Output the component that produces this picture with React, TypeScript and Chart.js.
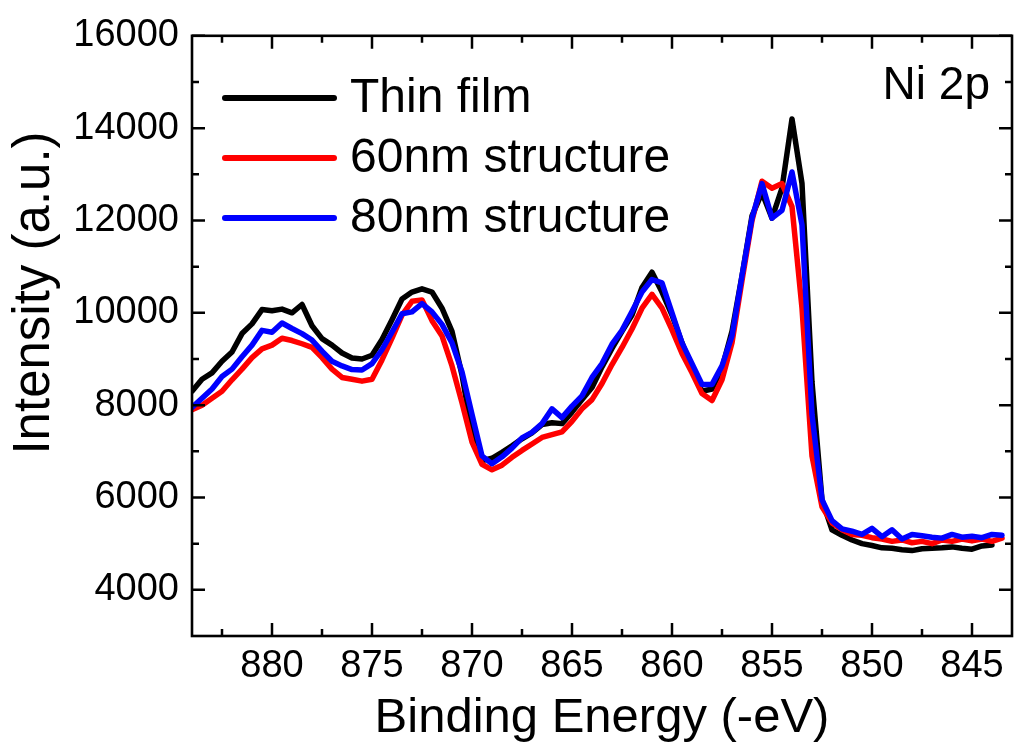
import React, { useEffect, useRef } from "react";
import { Chart, registerables } from "chart.js";

Chart.register(...registerables);

const energies = [
  884, 883.5, 883, 882.5, 882, 881.5, 881, 880.5, 880, 879.5,
  879, 878.5, 878, 877.5, 877, 876.5, 876, 875.5, 875, 874.5,
  874, 873.5, 873, 872.5, 872, 871.5, 871, 870.5, 870, 869.5,
  869, 868.5, 868, 867.5, 867, 866.5, 866, 865.5, 865, 864.5,
  864, 863.5, 863, 862.5, 862, 861.5, 861, 860.5, 860, 859.5,
  859, 858.5, 858, 857.5, 857, 856.5, 856, 855.5, 855, 854.5,
  854, 853.5, 853, 852.5, 852, 851.5, 851, 850.5, 850, 849.5,
  849, 848.5, 848, 847.5, 847, 846.5, 846, 845.5, 845, 844.5,
  844, 843.5,
];

const thinFilm = [
  8300, 8560, 8700, 8950, 9150, 9550, 9760, 10070, 10045, 10080,
  10000, 10180, 9720, 9440, 9300, 9130, 9020, 9000, 9080, 9420,
  9850, 10300, 10450, 10520, 10450, 10100, 9600, 8650, 7400, 6800,
  6850, 6980, 7120, 7270, 7400, 7580, 7620, 7600, 7850, 8120,
  8380, 8830, 9230, 9600, 9950, 10550, 10880, 10450, 9950, 9350,
  8800, 8300, 8350, 8800, 9600, 10800, 12100, 12600, 12050, 12700,
  14200, 12800, 8500, 5950, 5300, 5180, 5080, 5000, 4960, 4910,
  4900, 4870, 4850, 4890, 4900, 4910, 4930, 4900, 4880, 4950,
  4970, null,
];

const nm60 = [
  7900, 8000, 8150, 8300, 8550, 8780, 9030, 9220, 9300, 9450,
  9400, 9330, 9250, 9030, 8780, 8600, 8560, 8520, 8560, 8980,
  9450, 9950, 10250, 10280, 9830, 9500, 8850, 8050, 7200, 6720,
  6600, 6700, 6870, 7020, 7160, 7300, 7360, 7420, 7650, 7920,
  8120, 8470, 8880, 9250, 9650, 10100, 10400, 10100, 9630, 9120,
  8700, 8250, 8100, 8550, 9350, 10700, 12000, 12850, 12700, 12800,
  12300, 10100, 6900, 5800, 5450, 5300, 5200, 5180, 5130, 5100,
  5050, 5080, 5020, 5050, 5000, 5080, 5050, 5100, 5060, 5100,
  5050, 5120,
];

const nm80 = [
  7950, 8150, 8350, 8620, 8780, 9050, 9300, 9620, 9580, 9780,
  9660, 9550, 9410, 9170, 8950, 8850, 8770, 8760, 8900, 9200,
  9580, 9980, 10020, 10200, 10020, 9750, 9350, 8720, 7800, 6900,
  6730, 6880, 7070, 7290, 7410, 7600, 7920, 7730, 7980, 8200,
  8600, 8900, 9320, 9620, 10030, 10450, 10720, 10650, 10000, 9350,
  8900, 8450, 8450, 8850, 9500, 10800, 12050, 12800, 12050, 12220,
  13050, 11900, 7800, 5950, 5500, 5320, 5270, 5200, 5330, 5150,
  5300, 5100, 5200, 5170, 5140, 5120, 5200, 5140, 5160, 5130,
  5200, 5180,
];

const seriesLabels = ["Thin film", "60nm structure", "80nm structure"];
const seriesColors = ["#000000", "#ff0000", "#0000ff"];
const seriesOrder = [3, 2, 1];

const xTicks = [880, 875, 870, 865, 860, 855, 850, 845];
const xMinorTicks = [882.5, 877.5, 872.5, 867.5, 862.5, 857.5, 852.5, 847.5];
const yTicks = [4000, 6000, 8000, 10000, 12000, 14000, 16000];
const yMinorTicks = [5000, 7000, 9000, 11000, 13000, 15000];

const FONT = "'Liberation Sans', Arial, Helvetica, sans-serif";

const framePlugin = {
  id: "frameTicks",
  afterDatasetsDraw(chart: any) {
    const { ctx, chartArea } = chart;
    const xs = chart.scales.x;
    const ys = chart.scales.y;
    const { left, right, top, bottom } = chartArea;
    ctx.save();
    ctx.strokeStyle = "#000";
    ctx.lineWidth = 2.6;
    ctx.lineCap = "butt";
    ctx.strokeRect(left, top, right - left, bottom - top);
    ctx.lineWidth = 2.5;
    const drawX = (v: number, len: number) => {
      const p = xs.getPixelForValue(v);
      ctx.beginPath();
      ctx.moveTo(p, bottom);
      ctx.lineTo(p, bottom - len);
      ctx.moveTo(p, top);
      ctx.lineTo(p, top + len);
      ctx.stroke();
    };
    const drawY = (v: number, len: number) => {
      const p = ys.getPixelForValue(v);
      ctx.beginPath();
      ctx.moveTo(left, p);
      ctx.lineTo(left + len, p);
      ctx.moveTo(right, p);
      ctx.lineTo(right - len, p);
      ctx.stroke();
    };
    xTicks.forEach((v) => drawX(v, 13));
    xMinorTicks.forEach((v) => drawX(v, 7));
    yTicks.forEach((v) => drawY(v, 13));
    yMinorTicks.forEach((v) => drawY(v, 7));
    ctx.restore();
  },
  afterDraw(chart: any) {
    const { ctx, chartArea } = chart;
    ctx.save();
    // legend
    seriesLabels.forEach((label, i) => {
      const y = 98 + i * 60;
      ctx.strokeStyle = seriesColors[i];
      ctx.lineWidth = 6;
      ctx.lineCap = "round";
      ctx.beginPath();
      ctx.moveTo(225, y);
      ctx.lineTo(334, y);
      ctx.stroke();
      ctx.fillStyle = "#000";
      ctx.font = `48px ${FONT}`;
      ctx.textAlign = "left";
      ctx.textBaseline = "middle";
      ctx.fillText(label, 350, y + 1);
    });
    // annotation
    ctx.font = `46px ${FONT}`;
    ctx.textAlign = "right";
    ctx.textBaseline = "middle";
    ctx.fillText("Ni 2p", chartArea.right - 22, 86);
    // y title
    ctx.translate(35, 293);
    ctx.rotate(-Math.PI / 2);
    ctx.font = `51px ${FONT}`;
    ctx.textAlign = "center";
    ctx.textBaseline = "middle";
    ctx.fillText("Intensity (a.u.)", 0, 0);
    ctx.restore();
  },
};

export default function App() {
  const canvasRef = useRef<HTMLCanvasElement | null>(null);

  useEffect(() => {
    document.body.style.margin = "0";
    const canvas = canvasRef.current;
    if (!canvas) return;
    const series = [thinFilm, nm60, nm80];
    const chart = new Chart(canvas, {
      type: "line",
      data: {
        datasets: series.map((vals, i) => ({
          label: seriesLabels[i],
          data: energies.map((x, j) => ({ x, y: vals[j] })),
          borderColor: seriesColors[i],
          backgroundColor: seriesColors[i],
          borderWidth: 5.5,
          pointRadius: 0,
          tension: 0,
          borderJoinStyle: "round",
          borderCapStyle: "round",
          spanGaps: false,
          order: seriesOrder[i],
        })),
      },
      options: {
        responsive: false,
        maintainAspectRatio: false,
        animation: false,
        events: [],
        layout: { padding: { top: 31, right: 2, left: 0, bottom: 0 } },
        plugins: {
          legend: { display: false },
          tooltip: { enabled: false },
        },
        scales: {
          x: {
            type: "linear",
            reverse: true,
            min: 843,
            max: 884,
            afterBuildTicks: (s: any) => {
              s.ticks = xTicks.map((v) => ({ value: v }));
            },
            afterFit: (s: any) => {
              s.height = 115;
            },
            grid: { display: false, drawTicks: false },
            border: { display: false },
            ticks: {
              color: "#000",
              font: { family: FONT, size: 38 },
              padding: 8,
              maxRotation: 0,
              autoSkip: false,
            },
            title: {
              display: true,
              text: "Binding Energy (-eV)",
              color: "#000",
              font: { family: FONT, size: 49 },
              padding: { top: 0, bottom: 3 },
            },
          },
          y: {
            type: "linear",
            min: 3000,
            max: 16000,
            afterBuildTicks: (s: any) => {
              s.ticks = yTicks.map((v) => ({ value: v }));
            },
            afterFit: (s: any) => {
              s.width = 192;
            },
            grid: { display: false, drawTicks: false },
            border: { display: false },
            ticks: {
              color: "#000",
              font: { family: FONT, size: 38 },
              padding: 13,
              autoSkip: false,
              callback: (v: any) => String(v),
            },
          },
        },
      },
      plugins: [framePlugin],
    });
    return () => chart.destroy();
  }, []);

  return (
    <div style={{ position: "fixed", left: 0, top: 0, width: 1014, height: 751, background: "#fff" }}>
      <canvas ref={canvasRef} width={1014} height={751} style={{ width: 1014, height: 751, display: "block" }} />
    </div>
  );
}
